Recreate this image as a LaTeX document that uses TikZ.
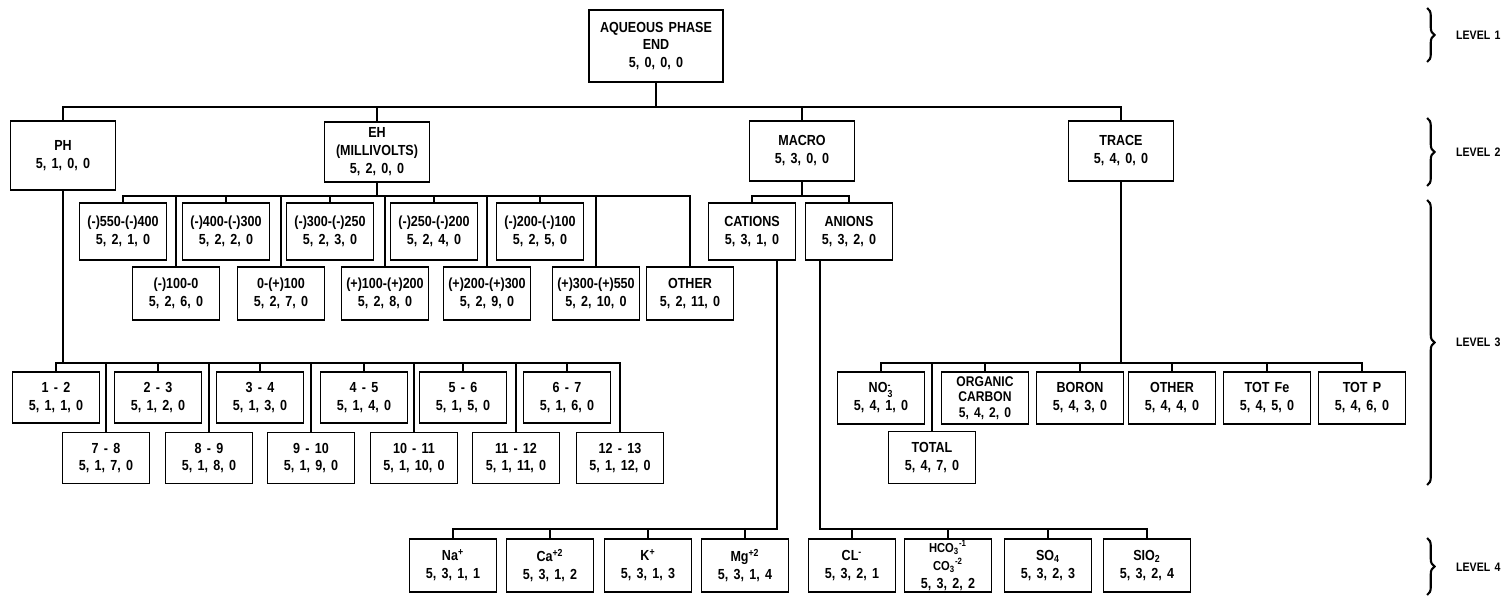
\documentclass[tikz,border=0pt]{standalone}
\usepackage{fontspec}
\usepackage{amsmath}
\usetikzlibrary{decorations.pathreplacing}
\newfontfamily\labfont{Liberation Sans}[FakeStretch=0.86, WordSpace=1.5]
\newcommand\subsup[2]{$_{\text{#1}}^{\text{#2}}$}
\tikzset{
  box/.style={draw, line width=0.9pt, align=center, inner sep=1pt,
    minimum width=17.4mm, minimum height=10.4mm,
    font=\labfont\bfseries\fontsize{8.3}{10.2}\selectfont},
  bigbox/.style={box, minimum width=21mm, minimum height=12mm},
  link/.style={line width=1.1pt},
  lbrace/.style={decorate, decoration={brace, amplitude=1.5mm}, line width=1.2pt},
  level/.style={anchor=west, font=\labfont\bfseries\fontsize{7}{8}\selectfont}
}
\begin{document}
\begin{tikzpicture}[x=0.2mm, y=-0.2mm]
  \useasboundingbox (0,0) rectangle (1503,596);
  % level 1
  \node[box, minimum width=26.8mm, minimum height=14.4mm] (root) at (656,46) {AQUEOUS PHASE\\END\\5, 0, 0, 0};
  % level 2
  \node[bigbox, minimum height=13.8mm] (ph) at (63,155.5) {PH\\5, 1, 0, 0};
  \node[bigbox] (eh) at (377,152) {EH\\(MILLIVOLTS)\\5, 2, 0, 0};
  \node[bigbox] (macro) at (802,151) {MACRO\\5, 3, 0, 0};
  \node[bigbox] (trace) at (1121,151) {TRACE\\5, 4, 0, 0};
  \coordinate (b1) at (656,107);
  \draw[link] (root) -- (b1);
  \draw[link] (ph) |- (b1) -| (trace);
  \draw[link] (eh) -- (eh |- b1);
  \draw[link] (macro) -- (macro |- b1);

  % EH classes
  \begin{scope}[every node/.style={box, minimum height=11.4mm}]
    \node (e1) at (123,231.5) {(-)550-(-)400\\5, 2, 1, 0};
    \node (e2) at (226,231.5) {(-)400-(-)300\\5, 2, 2, 0};
    \node (e3) at (330,231.5) {(-)300-(-)250\\5, 2, 3, 0};
    \node (e4) at (434,231.5) {(-)250-(-)200\\5, 2, 4, 0};
    \node (e5) at (540,231.5) {(-)200-(-)100\\5, 2, 5, 0};
  \end{scope}
  \begin{scope}[every node/.style={box, minimum height=10.6mm}]
    \node (e6) at (176,293.5) {(-)100-0\\5, 2, 6, 0};
    \node (e7) at (281,293.5) {0-(+)100\\5, 2, 7, 0};
    \node (e8) at (385,293.5) {(+)100-(+)200\\5, 2, 8, 0};
    \node (e9) at (487,293.5) {(+)200-(+)300\\5, 2, 9, 0};
    \node (e10) at (596,293.5) {(+)300-(+)550\\5, 2, 10, 0};
    \node (e11) at (690,293.5) {OTHER\\5, 2, 11, 0};
  \end{scope}
  \coordinate (b2) at (377,196);
  \draw[link] (eh) -- (b2);
  \draw[link] (e1) |- (b2) -| (e11);
  \foreach \n in {2,...,10}
    \draw[link] (e\n) -- (e\n |- b2);

  % PH classes
  \begin{scope}[every node/.style={box, minimum height=10.2mm}]
    \node (p1) at (56,397.5) {1 - 2\\5, 1, 1, 0};
    \node (p2) at (158,397.5) {2 - 3\\5, 1, 2, 0};
    \node (p3) at (260,397.5) {3 - 4\\5, 1, 3, 0};
    \node (p4) at (364,397.5) {4 - 5\\5, 1, 4, 0};
    \node (p5) at (463,397.5) {5 - 6\\5, 1, 5, 0};
    \node (p6) at (567,397.5) {6 - 7\\5, 1, 6, 0};
    \node (p7) at (106,458) {7 - 8\\5, 1, 7, 0};
    \node (p8) at (209,458) {8 - 9\\5, 1, 8, 0};
    \node (p9) at (311,458) {9 - 10\\5, 1, 9, 0};
    \node (p10) at (414,458) {10 - 11\\5, 1, 10, 0};
    \node (p11) at (516,458) {11 - 12\\5, 1, 11, 0};
    \node (p12) at (620,458) {12 - 13\\5, 1, 12, 0};
  \end{scope}
  \coordinate (b5) at (63,363);
  \draw[link] (ph) -- (b5);
  \draw[link] (p1) |- (b5) -| (p12);
  \foreach \n in {2,...,11}
    \draw[link] (p\n) -- (p\n |- b5);

  % MACRO
  \node[box, minimum height=11.4mm] (cat) at (752,231.5) {CATIONS\\5, 3, 1, 0};
  \node[box, minimum height=11.4mm] (an) at (849,231.5) {ANIONS\\5, 3, 2, 0};
  \coordinate (b3) at (802,196);
  \draw[link] (macro) -- (b3);
  \draw[link] (cat) |- (b3) -| (an);

  % level 4
  \begin{scope}[every node/.style={box, minimum height=10.6mm}]
    \node (na) at (453,565.5) {Na\textsuperscript{+}\\5, 3, 1, 1};
    \node (ca) at (550,565.5) {Ca\textsuperscript{+2}\\5, 3, 1, 2};
    \node (k) at (648,565.5) {K\textsuperscript{+}\\5, 3, 1, 3};
    \node (mg) at (745,565.5) {Mg\textsuperscript{+2}\\5, 3, 1, 4};
    \node (cl) at (852,565.5) {CL\textsuperscript{-}\\5, 3, 2, 1};
    \node[inner sep=0.3pt, font=\labfont\bfseries\fontsize{7.4}{10.2}\selectfont] (hco) at (948,565.5)
      {HCO\textsubscript{3}\textsuperscript{-1}\\CO\textsubscript{3}\textsuperscript{-2}\\\fontsize{8.3}{10.2}\selectfont 5, 3, 2, 2};
    \node (so) at (1048,565.5) {SO\textsubscript{4}\\5, 3, 2, 3};
    \node (sio) at (1147,565.5) {SIO\textsubscript{2}\\5, 3, 2, 4};
  \end{scope}
  \coordinate (cbus) at (777,529);
  \draw[link] (cat.south -| cbus) -- (cbus) -| (na);
  \foreach \n in {ca,k,mg}
    \draw[link] (\n) -- (\n |- cbus);
  \coordinate (abus) at (820,529);
  \draw[link] (an.south -| abus) -- (abus) -| (sio);
  \foreach \n in {cl,hco,so}
    \draw[link] (\n) -- (\n |- abus);

  % TRACE
  \begin{scope}[every node/.style={box, minimum height=10.4mm}]
    \node (no3) at (881,398) {NO\subsup{3}{-}\\5, 4, 1, 0};
    \node[inner sep=0.5pt, font=\labfont\bfseries\fontsize{8}{8.8}\selectfont] (oc) at (985,398) {ORGANIC\\CARBON\\5, 4, 2, 0};
    \node (boron) at (1080,398) {BORON\\5, 4, 3, 0};
    \node (tother) at (1172,398) {OTHER\\5, 4, 4, 0};
    \node (totfe) at (1267,398) {TOT Fe\\5, 4, 5, 0};
    \node (totp) at (1362,398) {TOT P\\5, 4, 6, 0};
    \node (total) at (932,457.5) {TOTAL\\5, 4, 7, 0};
  \end{scope}
  \coordinate (b4) at (1121,363);
  \draw[link] (trace) -- (b4);
  \draw[link] (no3) |- (b4) -| (totp);
  \foreach \n in {oc,boron,tother,totfe,total}
    \draw[link] (\n) -- (\n |- b4);

  % levels
  \draw[lbrace] (1427,8) -- (1427,62);
  \draw[lbrace] (1427,118) -- (1427,186);
  \draw[lbrace] (1427,200) -- (1427,485);
  \draw[lbrace] (1427,538) -- (1427,595);
  \node[level] (lev1) at (1450,35) {LEVEL 1};
  \node[level] (lev2) at (1450,152) {LEVEL 2};
  \node[level] (lev3) at (1450,342) {LEVEL 3};
  \node[level] (lev4) at (1450,567) {LEVEL 4};
\end{tikzpicture}
\end{document}
